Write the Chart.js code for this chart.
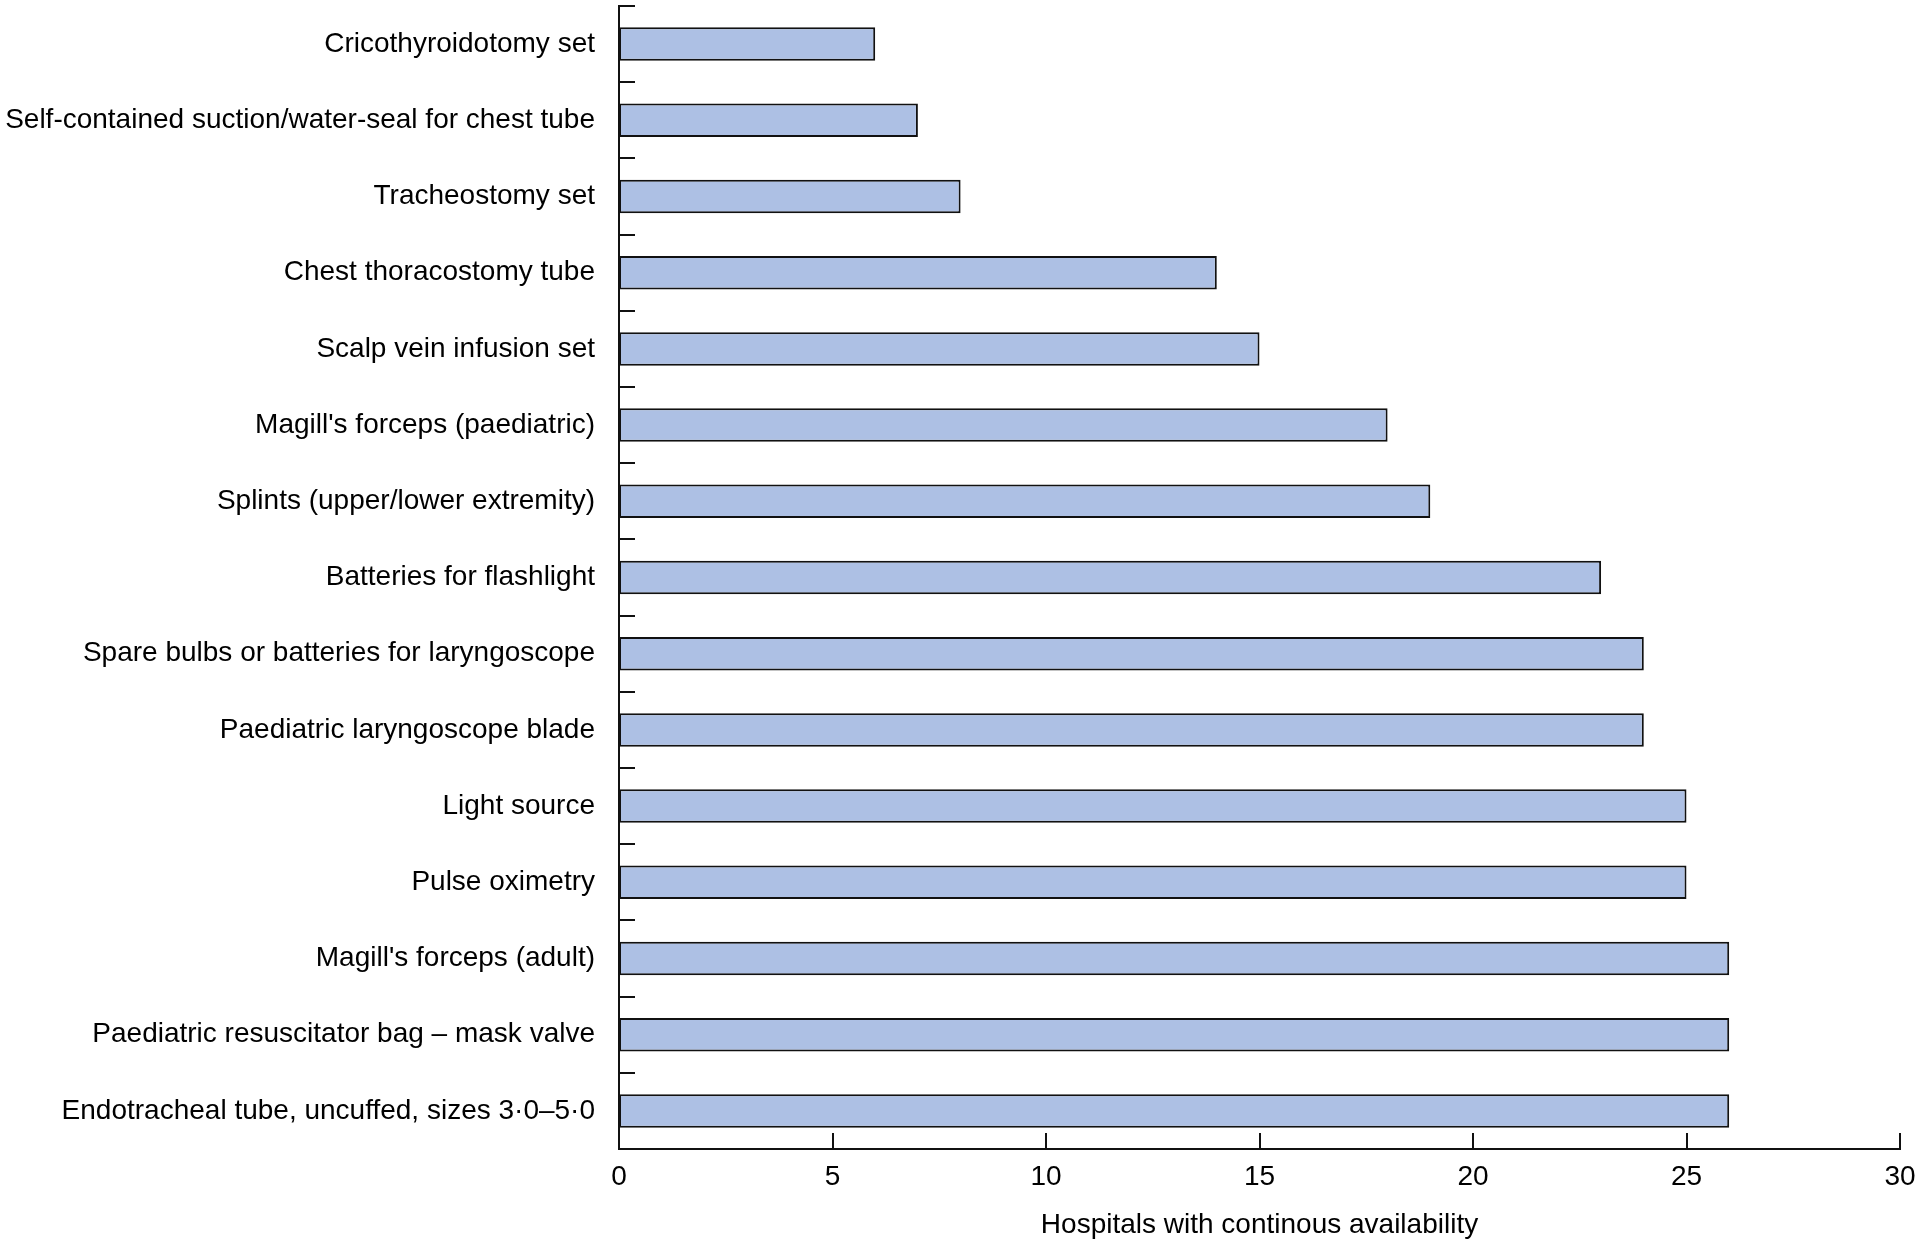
<!DOCTYPE html>
<html>
<head>
<meta charset="utf-8">
<script src="https://cdn.jsdelivr.net/npm/chart.js@4"></script>
<style>
  html, body { margin: 0; padding: 0; background: #fff; }
  #wrap { width: 1920px; height: 1242px; }
</style>
</head>
<body>
<div id="wrap"><canvas id="myChart"></canvas></div>
<script>
// equipment items, top to bottom
const items = [
  'Cricothyroidotomy set',
  'Self-contained suction/water-seal for chest tube',
  'Tracheostomy set',
  'Chest thoracostomy tube',
  'Scalp vein infusion set',
  "Magill's forceps (paediatric)",
  'Splints (upper/lower extremity)',
  'Batteries for flashlight',
  'Spare bulbs or batteries for laryngoscope',
  'Paediatric laryngoscope blade',
  'Light source',
  'Pulse oximetry',
  "Magill's forceps (adult)",
  'Paediatric resuscitator bag \u2013 mask valve',
  'Endotracheal tube, uncuffed, sizes 3\u00b70\u20135\u00b70'
];
const hospitals = [6, 7, 8, 14, 15, 18, 19, 23, 24, 24, 25, 25, 26, 26, 26];
const xTicks = [0, 5, 10, 15, 20, 25, 30];

const font = { family: 'Liberation Sans, Arial, sans-serif', size: 28 };

// ticks pointing inward, positions taken from the scales
const innerTicks = {
  id: 'innerTicks',
  afterDraw(chart) {
    const ctx = chart.ctx;
    const x = chart.scales.x, y = chart.scales.y;
    const len = 16;
    ctx.save();
    ctx.strokeStyle = '#111';
    ctx.lineWidth = 2;
    ctx.beginPath();
    xTicks.forEach(v => {
      const px = Math.round(x.getPixelForValue(v));
      ctx.moveTo(px, y.bottom);
      ctx.lineTo(px, y.bottom - len);
    });
    const half = (y.getPixelForValue(1) - y.getPixelForValue(0)) / 2;
    for (let i = 0; i < items.length; i++) {
      const py = Math.round(y.getPixelForValue(i) - half);
      ctx.moveTo(x.left, py);
      ctx.lineTo(x.left + len, py);
    }
    ctx.stroke();
    ctx.restore();
  }
};

function noPad(scale) {
  scale.paddingTop = 0;
  scale.paddingBottom = 0;
  scale.paddingLeft = 0;
  scale.paddingRight = 0;
}

const ctx = document.getElementById('myChart');

new Chart(ctx, {
  type: 'bar',
  data: {
    labels: items,
    datasets: [{
      label: 'Hospitals with continous availability',
      data: hospitals,
      backgroundColor: '#adc0e4',
      borderColor: '#111',
      borderWidth: 2,
      borderSkipped: false,
      categoryPercentage: 1,
      barPercentage: 0.44
    }]
  },
  options: {
    indexAxis: 'y',
    responsive: true,
    maintainAspectRatio: false,
    animation: false,
    layout: { padding: { top: 6, right: 20, left: 0, bottom: 0 } },
    plugins: {
      legend: { display: false },
      tooltip: { enabled: false }
    },
    scales: {
      x: {
        min: 0,
        max: 30,
        afterBuildTicks(scale) {
          scale.ticks = xTicks.map(v => ({ value: v }));
        },
        grid: { display: false },
        border: { display: true, color: '#111', width: 2 },
        ticks: { color: '#000', font: font, padding: 3 },
        title: {
          display: true,
          text: 'Hospitals with continous availability',
          color: '#000',
          font: font,
          padding: { top: 4, bottom: 0 }
        },
        afterFit(scale) { scale.height = 93; noPad(scale); }
      },
      y: {
        grid: { display: false, offset: true },
        border: { display: true, color: '#111', width: 2 },
        ticks: { color: '#000', font: font, padding: 16, autoSkip: false },
        afterFit(scale) { scale.width = 619; noPad(scale); }
      }
    }
  },
  plugins: [innerTicks]
});
</script>
</body>
</html>
